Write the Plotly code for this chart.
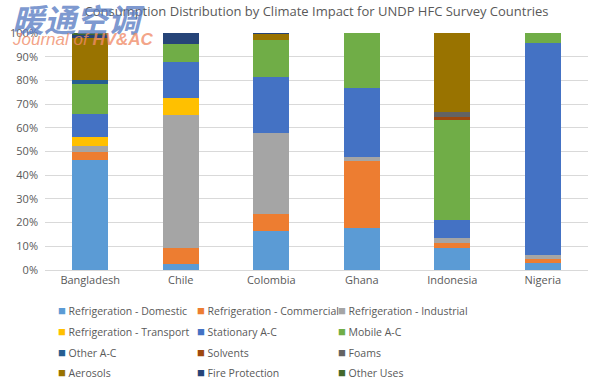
import plotly.graph_objects as go

countries = ["Bangladesh", "Chile", "Colombia", "Ghana", "Indonesia", "Nigeria"]

series_names = [
    "Refrigeration - Domestic", "Refrigeration - Commercial", "Refrigeration - Industrial",
    "Refrigeration - Transport", "Stationary A-C", "Mobile A-C",
    "Other A-C", "Solvents", "Foams",
    "Aerosols", "Fire Protection", "Other Uses",
]

ref_domestic   = [46.4, 2.5, 16.5, 17.6, 9.4, 3.1]
ref_commercial = [3.4, 6.9, 7.1, 28.5, 1.9, 1.5]
ref_industrial = [2.7, 56.0, 34.1, 1.7, 2.3, 1.7]
ref_transport  = [3.8, 7.3, 0.0, 0.0, 0.0, 0.0]
stationary_ac  = [9.7, 14.9, 23.6, 28.9, 7.5, 89.6]
mobile_ac      = [12.5, 7.8, 15.9, 23.3, 42.2, 4.1]
other_ac       = [1.7, 0.0, 0.0, 0.0, 0.0, 0.0]
solvents       = [0.0, 0.0, 0.0, 0.0, 1.1, 0.0]
foams          = [0.0, 0.0, 0.0, 0.0, 2.1, 0.0]
aerosols       = [17.8, 0.0, 2.4, 0.0, 33.5, 0.0]
fire_protection= [1.5, 4.6, 0.4, 0.0, 0.0, 0.0]
other_uses     = [0.5, 0.0, 0.0, 0.0, 0.0, 0.0]

series_values = [ref_domestic, ref_commercial, ref_industrial, ref_transport,
                 stationary_ac, mobile_ac, other_ac, solvents, foams,
                 aerosols, fire_protection, other_uses]

colors = ["#5B9BD5", "#ED7D31", "#A5A5A5", "#FFC000", "#4472C4", "#70AD47",
          "#255E91", "#9E480E", "#636363", "#997300", "#264478", "#43682B"]

tick_vals = [0, 10, 20, 30, 40, 50, 60, 70, 80, 90, 100]
tick_text = [f"{v}%" for v in tick_vals]

W, H = 591, 384
ML, MR, MT, MB = 45, 3, 33, 114
PW, PH = W - ML - MR, H - MT - MB

fig = go.Figure()
for name, vals, col in zip(series_names, series_values, colors):
    fig.add_trace(go.Bar(x=countries, y=vals, name=name, marker_color=col,
                         marker_line_width=0, showlegend=False))

FONT = "Open Sans, Liberation Sans, sans-serif"
fig.update_layout(
    barmode="stack",
    bargap=0.6,
    width=W, height=H,
    paper_bgcolor="white", plot_bgcolor="white",
    margin=dict(l=ML, r=MR, t=MT, b=MB, autoexpand=False),
    font=dict(family=FONT, size=11, color="#595959"),
    title=dict(text="Consumption Distribution by Climate Impact for UNDP HFC Survey Countries",
               x=0.5, xanchor="center", xref="paper", y=1 - 11 / H, yanchor="middle",
               font=dict(size=13, color="#595959")),
    xaxis=dict(showgrid=False, showline=True, linecolor="#D9D9D9", ticks="",
               tickfont=dict(size=11, color="#595959")),
    yaxis=dict(range=[0, 100], tickvals=tick_vals, ticktext=tick_text,
               showgrid=True, gridcolor="#D9D9D9", gridwidth=1, zeroline=False,
               showline=False, ticks="", ticklabelstandoff=6,
               tickfont=dict(size=11, color="#595959")),
    showlegend=False,
)

# legend drawn as text entries in a 3-column grid
col_px = [56, 195, 336]
row_px = [310, 331, 352, 372]
for i, (name, col) in enumerate(zip(series_names, colors)):
    cx = col_px[i % 3]
    ry = row_px[i // 3]
    fig.add_annotation(
        text=f"<span style='color:{col};font-size:13px'>■</span> {name}",
        xref="paper", yref="paper",
        x=(cx - ML) / PW, y=(H - MB - ry) / PH,
        xanchor="left", yanchor="middle", showarrow=False,
        font=dict(family=FONT, size=10.5, color="#595959"))

# watermark
fig.add_annotation(text="<b><i>暖通空调</i></b>", xref="paper", yref="paper",
                   x=(10 - ML) / PW, y=(H - MB - 18) / PH,
                   xanchor="left", yanchor="middle", showarrow=False,
                   font=dict(family="Noto Sans CJK SC", size=32, color="rgba(90,125,195,0.8)"))
fig.add_annotation(text="<i>Journal of <b>HV&AC</b></i>", xref="paper", yref="paper",
                   x=(10 - ML) / PW, y=(H - MB - 40) / PH,
                   xanchor="left", yanchor="middle", showarrow=False,
                   font=dict(family="Liberation Sans", size=17, color="rgba(240,140,105,0.8)"))

fig.write_html("out.html", config={"displayModeBar": False},
               post_script="document.body.style.margin='0';document.body.style.overflow='hidden';")
